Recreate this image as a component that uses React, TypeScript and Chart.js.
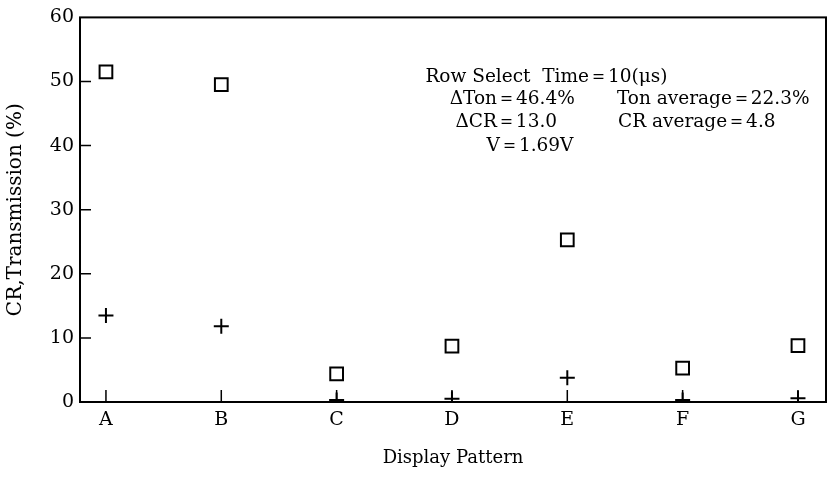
import React, { useEffect, useRef } from "react";
import { Chart, registerables } from "chart.js";

Chart.register(...registerables);

const categories = ["A", "B", "C", "D", "E", "F", "G"];
const transmission = [51.5, 49.5, 4.4, 8.7, 25.3, 5.3, 8.8];
const contrastRatio = [13.5, 11.8, 0.3, 0.5, 3.8, 0.3, 0.6];
const yTicks = [0, 10, 20, 30, 40, 50, 60];
const noteTexts = [
  "Row Select  Time＝10(μs)",
  "ΔTon＝46.4%",
  "Ton average＝22.3%",
  "ΔCR＝13.0",
  "CR average＝4.8",
  "V＝1.69V",
];

const INK = "#000";
const FONT_FAMILY = '"DejaVu Serif", "Liberation Serif", serif';

const framePlugin = {
  id: "frameAndNotes",
  afterDraw(chart: any) {
    const { ctx, chartArea, scales } = chart;
    const { left, right, top, bottom } = chartArea;
    const xs = scales.x;
    const ys = scales.y;
    ctx.save();
    ctx.strokeStyle = INK;
    ctx.lineWidth = 2;
    ctx.strokeRect(left, top, right - left, bottom - top);
    ctx.lineWidth = 1.5;
    ctx.beginPath();
    yTicks.forEach((v) => {
      if (v === yTicks[0] || v === yTicks[yTicks.length - 1]) return;
      const py = ys.getPixelForValue(v);
      ctx.moveTo(left, py);
      ctx.lineTo(left + 11, py);
    });
    categories.forEach((_, i) => {
      const px = xs.getPixelForValue(i);
      ctx.moveTo(px, bottom);
      ctx.lineTo(px, bottom - 12);
    });
    ctx.stroke();

    // annotation block (placed in data coordinates)
    const notePos = [
      [2.77, 50.7],
      [2.98, 47.2],
      [4.43, 47.2],
      [3.03, 43.6],
      [4.44, 43.6],
      [3.3, 39.9],
    ];
    ctx.fillStyle = INK;
    ctx.font = `18.5px ${FONT_FAMILY}`;
    ctx.textAlign = "left";
    ctx.textBaseline = "middle";
    noteTexts.forEach((t, i) => {
      ctx.fillText(t, xs.getPixelForValue(notePos[i][0]), ys.getPixelForValue(notePos[i][1]));
    });
    ctx.restore();
  },
};

export default function App() {
  const canvasRef = useRef<HTMLCanvasElement | null>(null);

  useEffect(() => {
    if (!canvasRef.current) return;
    const font = { family: FONT_FAMILY, size: 18 };
    const tickFont = { family: FONT_FAMILY, size: 19 };
    const chart = new Chart(canvasRef.current, {
      type: "scatter",
      data: {
        datasets: [
          {
            label: "Transmission",
            data: categories.map((_, i) => ({ x: i, y: transmission[i] })),
            pointStyle: "rect",
            pointRadius: 9,
            pointBorderWidth: 2,
            borderColor: INK,
            backgroundColor: "rgba(0,0,0,0)",
          },
          {
            label: "CR",
            data: categories.map((_, i) => ({ x: i, y: contrastRatio[i] })),
            pointStyle: "cross",
            pointRadius: 7.5,
            pointBorderWidth: 2,
            borderColor: INK,
            backgroundColor: "rgba(0,0,0,0)",
          },
        ],
      },
      options: {
        animation: false,
        responsive: false,
        layout: { padding: { top: 12, right: 12, left: 0, bottom: 0 } },
        plugins: {
          legend: { display: false },
          tooltip: { enabled: false },
        },
        scales: {
          x: {
            type: "linear",
            min: -0.225,
            max: 6.243,
            afterBuildTicks: (s: any) => {
              s.ticks = categories.map((_, i) => ({ value: i }));
            },
            ticks: {
              callback: (_v: any, idx: number) => categories[idx] ?? "",
              font: tickFont,
              color: INK,
              padding: 7,
              maxRotation: 0,
              autoSkip: false,
            },
            grid: { display: false, drawTicks: false },
            border: { display: false },
            title: {
              display: true,
              text: "Display Pattern",
              font,
              color: INK,
              padding: { top: 0, bottom: 26 },
            },
            afterFit: (s: any) => {
              s.height = 93;
            },
          },
          y: {
            min: 0,
            max: 60,
            afterBuildTicks: (s: any) => {
              s.ticks = yTicks.map((v) => ({ value: v }));
            },
            ticks: { font: tickFont, color: INK, padding: 6 },
            grid: { display: false, drawTicks: false },
            border: { display: false },
            title: {
              display: true,
              text: "CR,Transmission (%)",
              font: { family: FONT_FAMILY, size: 20 },
              color: INK,
              padding: { top: 4, bottom: 0 },
            },
            afterFit: (s: any) => {
              s.width = 80;
            },
          },
        },
      },
      plugins: [framePlugin],
    } as any);
    return () => chart.destroy();
  }, []);

  return (
    <div style={{ position: "fixed", left: 0, top: 0, width: 838, height: 495, background: "#fff" }}>
      <canvas ref={canvasRef} width={838} height={495} style={{ display: "block" }} />
    </div>
  );
}
